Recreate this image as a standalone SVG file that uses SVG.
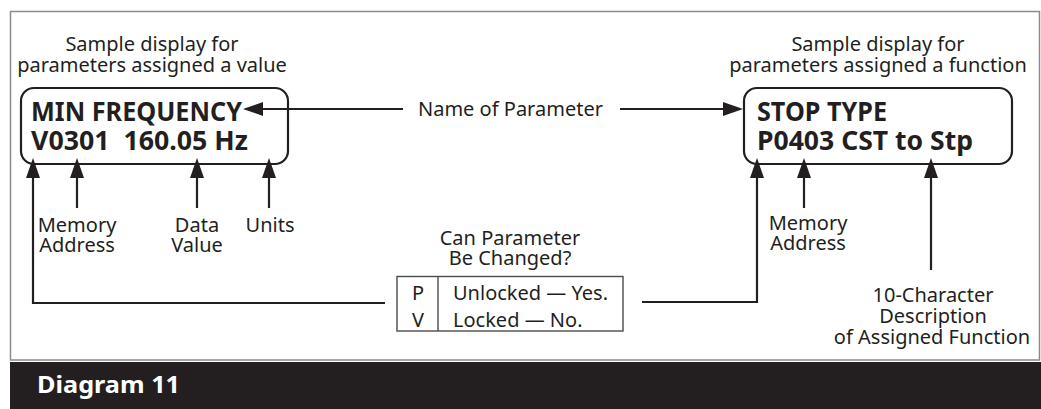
<svg xmlns="http://www.w3.org/2000/svg" width="1041" height="409" viewBox="0 0 1041 409">
<style>
text{font-family:"Noto Sans","Open Sans","DejaVu Sans",sans-serif;fill:#231f20}
.r{font-size:20px}
.c{text-anchor:middle}
.b{font-size:26px;font-weight:bold}
.disp{fill:#fff;stroke:#231f20;stroke-width:2.2}
.ln{fill:none;stroke:#231f20;stroke-width:2.2}
.pv{fill:#fff;stroke:#4a4a4a;stroke-width:1.4}
</style>
<defs>
<marker id="ah" markerUnits="userSpaceOnUse" markerWidth="20" markerHeight="14" refX="0" refY="7" orient="auto" overflow="visible">
<path d="M0,0 L20,7 L0,14 z" fill="#231f20"/>
</marker>
</defs>
<rect x="0" y="0" width="1041" height="409" fill="#fff"/>
<rect x="10.5" y="11.5" width="1029" height="348.5" fill="#fff" stroke="#8a8a8a" stroke-width="1.5"/>
<rect x="10" y="362" width="1031" height="47" fill="#231f20"/>
<text x="37" y="393" style="font-size:23px;font-weight:bold;fill:#fff" textLength="143" lengthAdjust="spacingAndGlyphs">Diagram 11</text>

<g id="left-display">
<text class="r c" x="152" y="51">Sample display for</text>
<text class="r c" x="152" y="72">parameters assigned a value</text>
<rect class="disp" x="21" y="88" width="267" height="76" rx="13"/>
<text class="b" x="31" y="121" textLength="211" lengthAdjust="spacingAndGlyphs">MIN FREQUENCY</text>
<text class="b" x="31" y="150" textLength="217" lengthAdjust="spacingAndGlyphs" xml:space="preserve">V0301  160.05 Hz</text>
</g>

<g id="right-display">
<text class="r c" x="878" y="51">Sample display for</text>
<text class="r c" x="878" y="72">parameters assigned a function</text>
<rect class="disp" x="744" y="88" width="268" height="76" rx="13"/>
<text class="b" x="757" y="121" textLength="130" lengthAdjust="spacingAndGlyphs">STOP TYPE</text>
<text class="b" x="757" y="150" textLength="216" lengthAdjust="spacingAndGlyphs">P0403 CST to Stp</text>
</g>

<g id="name-of-parameter">
<text class="r" x="418" y="116">Name of Parameter</text>
</g>

<g id="left-memory-address">
<text class="r c" x="77" y="232">Memory</text>
<text class="r c" x="77" y="252">Address</text>
</g>
<g id="data-value">
<text class="r c" x="197" y="232">Data</text>
<text class="r c" x="197" y="252">Value</text>
</g>
<g id="units">
<text class="r c" x="270" y="232">Units</text>
</g>

<g id="can-parameter-be-changed">
<text class="r c" x="510" y="245">Can Parameter</text>
<text class="r c" x="510" y="265">Be Changed?</text>
<rect class="pv" x="397" y="276.5" width="226" height="54.5"/>
<line class="pv" x1="438" y1="276.5" x2="438" y2="331"/>
<text class="r c" x="418" y="300">P</text>
<text class="r c" x="418" y="327">V</text>
<text class="r" x="453" y="300">Unlocked — Yes.</text>
<text class="r" x="453" y="327">Locked — No.</text>
</g>

<g id="right-memory-address">
<text class="r c" x="808" y="230">Memory</text>
<text class="r c" x="808" y="250">Address</text>
</g>
<g id="description">
<text class="r c" x="933" y="302">10-Character</text>
<text class="r c" x="933" y="323">Description</text>
<text class="r c" x="932" y="344">of Assigned Function</text>
</g>

<g id="connectors">
<path class="ln" d="M403,109 H263" marker-end="url(#ah)"/>
<path class="ln" d="M620,109 H723" marker-end="url(#ah)"/>
<path class="ln" d="M385,303 H33 V178" marker-end="url(#ah)"/>
<path class="ln" d="M77,208 V178" marker-end="url(#ah)"/>
<path class="ln" d="M197,208 V178" marker-end="url(#ah)"/>
<path class="ln" d="M269,208 V178" marker-end="url(#ah)"/>
<path class="ln" d="M642,302 H757 V178" marker-end="url(#ah)"/>
<path class="ln" d="M804,208 V178" marker-end="url(#ah)"/>
<path class="ln" d="M931,270 V178" marker-end="url(#ah)"/>
</g>
</svg>
